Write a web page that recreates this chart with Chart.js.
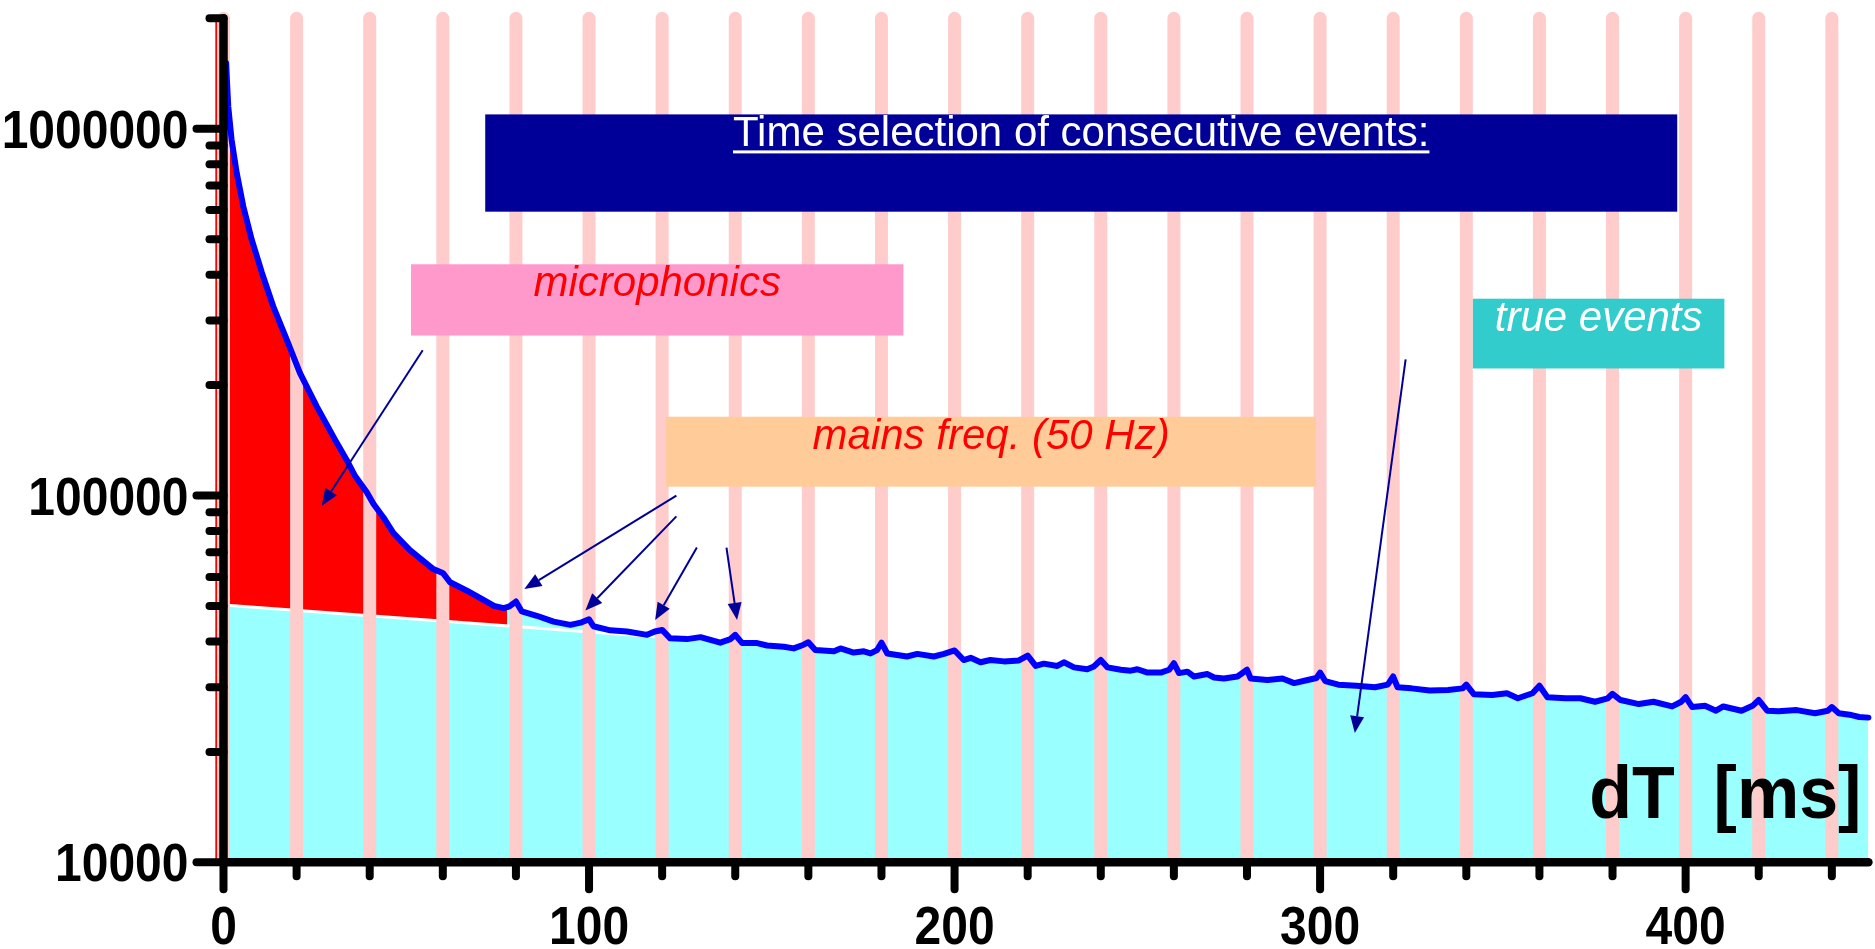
<!DOCTYPE html>
<html lang="en">
<head>
  <meta charset="UTF-8" />
  <title>dT distribution</title>
  <script src="https://cdn.jsdelivr.net/npm/chart.js@4.4.0/dist/chart.umd.min.js"></script>
  <style>
    html, body { margin: 0; padding: 0; background: #fff; }
    #wrap { width: 1875px; height: 949px; }
  </style>
</head>
<body>
  <div id="wrap"><canvas id="grafico"></canvas></div>

  <script>
    // measured spectrum: time between consecutive events [ms] -> counts
    const dtMs = [0.7, 1.3, 2.2, 3.6, 5.4, 7.7, 10.5, 13.6, 17.3, 20.9,
      25.5, 30.5, 33.7, 36, 39.2, 41, 43.8, 46.5, 51, 57.4,
      60, 62, 66.6, 71, 74, 76.6, 77.6, 78.4, 80, 81.6, 85.7,
      90.3, 94.9, 98, 100, 101.2, 105.8, 110.4, 115.9, 118, 120,
      122.2, 126.8, 130.5, 135.9, 138.7, 140, 141.9, 146, 148.7, 153.3,
      156, 158.7, 160, 161.9, 167, 168.8, 172.4, 175.2, 177, 178.8,
      180, 181.6, 187, 189.8, 194.3, 197.1, 200, 202.5, 204.4, 207.1,
      209.8, 213.5, 217.6, 220, 222.2, 224.4, 228.1, 229.9, 232.7, 236.3,
      238.1, 240, 241.8, 245.5, 248.2, 250, 252.8, 256.4, 258.7, 260,
      261.4, 263.7, 265.5, 269.2, 271, 273.7, 277.4, 280, 281, 285.6,
      289.7, 292.9, 296.6, 299, 300, 301.4, 305, 310, 315, 318.5,
      320, 321.2, 325, 330, 335, 339, 340, 342.1, 347.1, 351.1,
      354.1, 358.1, 360, 362.2, 367.2, 371.2, 375.2, 378.7, 380, 382.2,
      387.2, 391.2, 396.3, 398.8, 400, 401.8, 405.3, 408.3, 410.3, 415.3,
      418.3, 420, 422.3, 425.4, 430.4, 435.4, 438.9, 440, 441.9, 445.4,
      447.5, 450];
    const counts = [1510000, 1150000, 935000, 759000, 615000, 499000, 405000, 328000, 266000, 216000,
      175000, 142000, 125000, 113000, 102000, 95000, 87000, 79000, 71000, 63000,
      61500, 58000, 55000, 52000, 50000, 49300, 49600, 50000, 51400, 48300, 47000,
      45300, 44400, 45100, 46000, 44000, 42900, 42600, 41700, 42600, 43000,
      40800, 40600, 41100, 39700, 40600, 41700, 39600, 39600, 39000, 38700,
      38300, 39200, 39800, 37900, 37600, 38300, 37300, 37600, 37100, 37900,
      39700, 37100, 36400, 37000, 36400, 37000, 37800, 35600, 36100, 35100,
      35600, 35300, 35500, 36600, 34300, 34800, 34300, 35100, 34000, 33600,
      34200, 35600, 34000, 33500, 33300, 33600, 32900, 32900, 33500, 34900,
      32800, 33100, 32100, 32600, 31900, 31700, 32100, 33500, 31700, 31400,
      31700, 30800, 31400, 31800, 32900, 31200, 30500, 30300, 30000, 30500,
      32100, 30000, 29800, 29400, 29500, 29800, 30500, 28700, 28600, 28900,
      28000, 28900, 30300, 28200, 28000, 28000, 27400, 28000, 28800, 27700,
      27000, 27400, 26600, 27400, 28200, 26500, 26700, 25900, 26600, 25900,
      26700, 27700, 25900, 25800, 26000, 25500, 25900, 26500, 25500, 25200,
      24900, 24800];

    // microphonics part (red) goes up to this dT
    const microEnd = 77.6;
    // true events fit (white line)
    const fitX = [0, 118];
    const fitY = [50300, 41200];
    // 50 Hz marks every 20 ms
    const bandX = [0, 20, 40, 60, 80, 100, 120, 140, 160, 180, 200, 220,
      240, 260, 280, 300, 320, 340, 360, 380, 400, 420, 440];
    const bandY = [10200, 2000000];
    const redEdgeX = -1.9;

    const xRange = [0, 450];
    const yRange = [10000, 2000000];
    const xTicks = bandX;
    const xLabels = [0, 100, 200, 300, 400];
    const yTicks = [10000, 20000, 30000, 40000, 50000, 60000, 70000, 80000, 90000,
      100000, 200000, 300000, 400000, 500000, 600000, 700000, 800000, 900000,
      1000000, 2000000];
    const yLabels = [10000, 100000, 1000000];

    // notes: text and box [x0, x1, yTop, yBottom] in data units
    const noteText = ["Time selection of consecutive events:", "microphonics",
      "mains freq. (50 Hz)", "true events"];
    const noteBoxes = [[71.6, 397.7, 1094000, 594000], [51.3, 186.0, 427000, 273000],
      [121.1, 298.9, 164000, 105700], [341.8, 410.6, 344000, 222000]];
    // arrows [xFrom, yFrom, xTo, yTo]
    const arrows = [[54.5, 249000, 26.9, 93800], [123.9, 99900, 82.3, 55600],
      [123.9, 87700, 99.0, 48600], [129.5, 72100, 118.1, 45800],
      [137.6, 72100, 140.5, 45800], [323.4, 235000, 309.5, 22500]];

    const FONT = '"Liberation Sans", Arial, Helvetica, sans-serif';
    const boxFill = ["#000099", "#FF99CC", "#FFCC99", "#33CCCC"];
    const noteColor = ["#FFFFFF", "#FF0000", "#FF0000", "#FFFFFF"];
    const noteItalic = [false, true, true, true];

    const spectrum = dtMs.map((t, i) => ({ x: t, y: counts[i] }));
    const micro = spectrum.filter(p => p.x <= microEnd);
    const fitLine = fitX.map((t, i) => ({ x: t, y: fitY[i] }));
    const bands = [];
    bandX.forEach(b => {
      bands.push({ x: b, y: bandY[0] }, { x: b, y: bandY[1] }, { x: b, y: null });
    });

    function line(ctx, x1, y1, x2, y2) {
      ctx.beginPath();
      ctx.moveTo(x1, y1);
      ctx.lineTo(x2, y2);
      ctx.stroke();
    }

    // text a bit taller than the font, like the original
    function tallText(ctx, txt, x, y, sy) {
      ctx.save();
      ctx.translate(x, y);
      ctx.scale(1, sy);
      ctx.fillText(txt, 0, 0);
      ctx.restore();
    }

    const decor = {
      id: "decor",
      afterDraw(chart) {
        const { ctx, chartArea: a, scales: { x, y } } = chart;
        ctx.save();

        // note boxes
        noteText.forEach((t, i) => {
          const [x0, x1, yt, yb] = noteBoxes[i];
          const left = x.getPixelForValue(x0), right = x.getPixelForValue(x1);
          const top = y.getPixelForValue(yt), bottom = y.getPixelForValue(yb);
          ctx.fillStyle = boxFill[i];
          ctx.fillRect(left, top, right - left, bottom - top);
          ctx.font = (noteItalic[i] ? "italic " : "") + "42px " + FONT;
          ctx.fillStyle = noteColor[i];
          ctx.textAlign = "center";
          ctx.textBaseline = "alphabetic";
          const cx = (left + right) / 2, base = top + 32;
          ctx.fillText(t, cx, base);
          if (i === 0) {
            const w = ctx.measureText(t).width;
            ctx.fillRect(cx - w / 2, base + 4, w, 3);
          }
        });

        // arrows
        ctx.strokeStyle = "#000099";
        ctx.fillStyle = "#000099";
        ctx.lineWidth = 2;
        arrows.forEach(([x1, y1, x2, y2]) => {
          const px1 = x.getPixelForValue(x1), py1 = y.getPixelForValue(y1);
          const px2 = x.getPixelForValue(x2), py2 = y.getPixelForValue(y2);
          const ang = Math.atan2(py2 - py1, px2 - px1);
          const hl = 17, hw = 7;
          const bx = px2 - hl * Math.cos(ang), by = py2 - hl * Math.sin(ang);
          line(ctx, px1, py1, bx, by);
          ctx.beginPath();
          ctx.moveTo(px2, py2);
          ctx.lineTo(bx + hw * Math.sin(ang), by - hw * Math.cos(ang));
          ctx.lineTo(bx - hw * Math.sin(ang), by + hw * Math.cos(ang));
          ctx.closePath();
          ctx.fill();
        });

        // axis title inside the plot
        ctx.fillStyle = "#000";
        ctx.font = "bold 70px " + FONT;
        ctx.textAlign = "right";
        ctx.textBaseline = "alphabetic";
        tallText(ctx, "dT  [ms]", a.right - 7, a.bottom - 44, 1.06);

        // tick labels
        ctx.font = "bold 48px " + FONT;
        ctx.textAlign = "right";
        yLabels.forEach(v => {
          tallText(ctx, String(v), a.left - 35, y.getPixelForValue(v) + 19, 1.1);
        });
        ctx.textAlign = "center";
        xLabels.forEach(v => {
          tallText(ctx, String(v), x.getPixelForValue(v), a.bottom + 82, 1.1);
        });

        // axes and tick marks
        ctx.strokeStyle = "#000";
        ctx.lineCap = "round";
        ctx.lineWidth = 8.5;
        line(ctx, a.left, y.getPixelForValue(yRange[1]), a.left, a.bottom);
        line(ctx, a.left, a.bottom, x.getPixelForValue(xRange[1]), a.bottom);
        ctx.lineWidth = 8;
        y.ticks.forEach(t => {
          const py = y.getPixelForValue(t.value);
          const len = yLabels.includes(t.value) ? 27 : 14;
          line(ctx, a.left - len, py, a.left, py);
        });
        x.ticks.forEach(t => {
          const px = x.getPixelForValue(t.value);
          const len = xLabels.includes(t.value) ? 27 : 14;
          line(ctx, px, a.bottom, px, a.bottom + len);
        });
        ctx.restore();
      }
    };

    new Chart(document.getElementById("grafico"), {
      type: "line",
      data: {
        datasets: [
          { data: spectrum, borderColor: "#0000FF", borderWidth: 6, pointRadius: 0,
            borderJoinStyle: "round", borderCapStyle: "round", fill: false, order: 1, clip: false },
          { data: bands, borderColor: "#FFCCCC", borderWidth: 13, pointRadius: 0,
            borderCapStyle: "round", spanGaps: false, fill: false, order: 2, clip: false },
          { data: [{ x: redEdgeX, y: yRange[0] }, { x: redEdgeX, y: yRange[1] }],
            borderColor: "#FF0000", borderWidth: 2.5, pointRadius: 0, fill: false, order: 2, clip: false },
          { data: fitLine, borderColor: "#FFFFFF", borderWidth: 3, pointRadius: 0, fill: false, order: 3 },
          { data: micro, borderColor: "rgba(0,0,0,0)", borderWidth: 0, pointRadius: 0,
            backgroundColor: "#FF0000", fill: 3, order: 4 },
          { data: spectrum, borderColor: "rgba(0,0,0,0)", borderWidth: 0, pointRadius: 0,
            backgroundColor: "#99FFFF", fill: "start", order: 5 }
        ]
      },
      options: {
        responsive: true,
        maintainAspectRatio: false,
        animation: false,
        events: [],
        layout: { padding: { top: 18.3, right: 6.6, left: 0, bottom: 0 } },
        plugins: {
          legend: { display: false },
          tooltip: { enabled: false },
          filler: { drawTime: "beforeDatasetsDraw" }
        },
        scales: {
          x: {
            type: "linear",
            min: xRange[0],
            max: xRange[1],
            border: { display: false },
            grid: { display: false, drawTicks: false },
            afterBuildTicks: s => { s.ticks = xTicks.map(v => ({ value: v })); },
            afterFit: s => { s.height = 86.7; s.paddingLeft = 0; s.paddingRight = 0; },
            ticks: { display: false, autoSkip: false }
          },
          y: {
            type: "logarithmic",
            min: yRange[0],
            max: yRange[1],
            border: { display: false },
            grid: { display: false, drawTicks: false },
            afterBuildTicks: s => { s.ticks = yTicks.map(v => ({ value: v })); },
            afterFit: s => { s.width = 223.5; s.paddingTop = 0; s.paddingBottom = 0; },
            ticks: { display: false, autoSkip: false }
          }
        }
      },
      plugins: [decor]
    });
  </script>
</body>
</html>
